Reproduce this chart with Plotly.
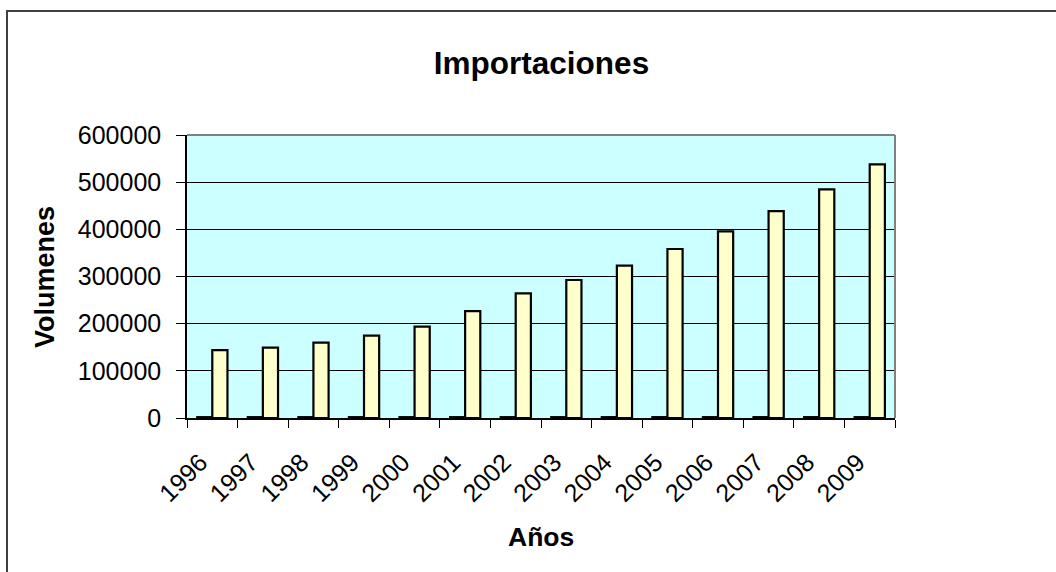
import plotly.graph_objects as go

years = ["1996", "1997", "1998", "1999", "2000", "2001", "2002", "2003",
         "2004", "2005", "2006", "2007", "2008", "2009"]
serie_anios = [1996, 1997, 1998, 1999, 2000, 2001, 2002, 2003,
               2004, 2005, 2006, 2007, 2008, 2009]
importaciones = [144000, 149000, 159600, 174500, 193600, 226800, 264300, 292600,
                 322900, 358300, 395800, 438800, 484800, 537800]
y_ticks = [0, 100000, 200000, 300000, 400000, 500000, 600000]
y_tick_labels = ["0", "100000", "200000", "300000", "400000", "500000", "600000"]

W, H = 1056, 572
L, R, T, B = 187, 161, 135, 154
pw, ph = W - L - R, H - T - B

def px_x(p):
    return (p - L) / pw

def px_y(p):
    return (H - B - p) / ph

FONT = "Liberation Sans, Arial, sans-serif"

fig = go.Figure()
fig.add_trace(go.Bar(x=years, y=serie_anios, name="Años",
                     marker=dict(color="#9999FF", line=dict(color="black", width=2))))
fig.add_trace(go.Bar(x=years, y=importaciones, name="Importaciones",
                     marker=dict(color="#FFFFCC", line=dict(color="black", width=2.2))))

fig.update_layout(
    width=W, height=H,
    margin=dict(l=L, r=R, t=T, b=B),
    paper_bgcolor="white",
    plot_bgcolor="#CCFFFF",
    barmode="group", bargap=0.4, bargroupgap=0,
    showlegend=False,
    font=dict(family=FONT, color="black", size=24),
    title=dict(text="<b>Importaciones</b>", x=px_x(541.5), xanchor="center",
               xref="paper",
               y=1 - 63 / H, yanchor="middle",
               font=dict(family=FONT, size=31.5, color="black")),
    xaxis=dict(type="category", tickson="boundaries", ticks="outside", ticklen=8,
               tickcolor="black", tickwidth=1, tickangle=-45,
               ticklabelstandoff=18, ticklabelshift=-12,
               showline=True, linecolor="black", linewidth=1.5,
               showgrid=False, tickfont=dict(size=25), fixedrange=True),
    yaxis=dict(range=[0, 600000], tickvals=y_ticks, ticktext=y_tick_labels,
               ticks="outside", ticklen=9,
               tickcolor="black", tickwidth=1, ticklabelstandoff=10,
               showline=True, linecolor="black", linewidth=1.5,
               showgrid=True, gridcolor="black", gridwidth=1,
               zeroline=False, tickfont=dict(size=25), fixedrange=True),
    annotations=[
        dict(text="<b>Volumenes</b>", xref="paper", yref="paper",
             x=px_x(45), y=px_y(277), xanchor="center", yanchor="middle",
             textangle=-90, showarrow=False, font=dict(size=27, family=FONT)),
        dict(text="<b>Años</b>", xref="paper", yref="paper",
             x=px_x(541), y=px_y(537), xanchor="center", yanchor="middle",
             showarrow=False, font=dict(size=26.5, family=FONT)),
    ],
    shapes=[
        dict(type="line", xref="paper", yref="paper", x0=0, x1=1, y0=1, y1=1,
             line=dict(color="#808080", width=2)),
        dict(type="line", xref="paper", yref="paper", x0=1, x1=1, y0=0, y1=1,
             line=dict(color="#808080", width=2)),
        dict(type="rect", xref="paper", yref="paper",
             x0=px_x(7), x1=px_x(W + 20), y0=px_y(H + 20), y1=px_y(11),
             line=dict(color="#404040", width=2), fillcolor="rgba(0,0,0,0)"),
    ],
)

fig.write_html("out.html")
